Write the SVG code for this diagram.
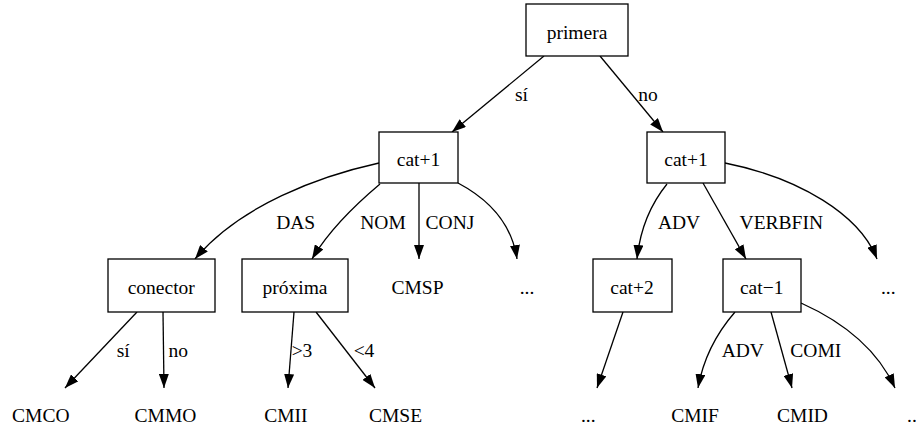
<svg xmlns="http://www.w3.org/2000/svg" width="916" height="427" viewBox="0 0 916 427">
<style>
  rect.n { fill: #fff; stroke: #000; stroke-width: 1.3; }
  text { font-size: 19.5px; fill: #000; text-anchor: middle; }
  .e path { fill: none; stroke: #000; stroke-width: 1.3; marker-end: url(#arr); }
</style>
<defs>
  <marker id="arr" viewBox="0 0 14 10" refX="14" refY="5" markerWidth="14" markerHeight="10" markerUnits="userSpaceOnUse" orient="auto">
    <path d="M0,0 L14,5 L0,10 z" fill="#000"/>
  </marker>
</defs>
<rect width="916" height="427" fill="#fff"/>
<g font-family="'Liberation Serif', 'Times New Roman', 'DejaVu Serif', serif">
<g id="connectors" class="e">
  <path d="M544,56 L452,132"/>
  <path d="M600,56 L663,132"/>
  <path d="M379,163 C320,176 240,205 195,259"/>
  <path d="M380,184 C355,205 328,232 312,259"/>
  <path d="M419,183 L419,259"/>
  <path d="M458,183 C490,200 512,225 517,259"/>
  <path d="M667,184 C650,205 640,230 637,259"/>
  <path d="M703,183 L746,259"/>
  <path d="M725,163 C800,178 860,215 877,259"/>
  <path d="M137,312 L65,388"/>
  <path d="M163,312 L164,388"/>
  <path d="M294,312 L288,388"/>
  <path d="M316,312 L375,388"/>
  <path d="M623,312 L597,388"/>
  <path d="M735,312 C715,335 703,360 698,388"/>
  <path d="M771,312 L792,388"/>
  <path d="M801,303 C850,325 880,355 895,388"/>
</g>
<g id="edge-labels">
  <text x="521.5" y="101">sí</text>
  <text x="648" y="101">no</text>
  <text x="295.7" y="229">DAS</text>
  <text x="383" y="229">NOM</text>
  <text x="450" y="229">CONJ</text>
  <text x="679" y="229">ADV</text>
  <text x="781.3" y="229">VERBFIN</text>
  <text x="123.3" y="357">sí</text>
  <text x="178.3" y="357">no</text>
  <text x="302" y="357">&gt;3</text>
  <text x="364" y="357">&lt;4</text>
  <text x="742.8" y="357">ADV</text>
  <text x="815.8" y="357">COMI</text>
</g>
<g id="n-primera"><rect class="n" x="526" y="4" width="102" height="52"/><text x="577" y="38.5">primera</text></g>
<g id="n-cat1-left"><rect class="n" x="379" y="132" width="79" height="51"/><text x="418.5" y="166">cat+1</text></g>
<g id="n-cat1-right"><rect class="n" x="647" y="132" width="78" height="51"/><text x="686" y="166">cat+1</text></g>
<g id="n-conector"><rect class="n" x="108" y="259" width="107" height="53"/><text x="161.3" y="293.5">conector</text></g>
<g id="n-proxima"><rect class="n" x="242" y="259" width="106" height="53"/><text x="295" y="293.5">próxima</text></g>
<g id="n-cmsp"><text x="417.5" y="293.5">CMSP</text></g>
<g id="n-dots1"><text x="527" y="293.5">...</text></g>
<g id="n-cat2"><rect class="n" x="593" y="259" width="79" height="53"/><text x="632" y="293.5">cat+2</text></g>
<g id="n-catm1"><rect class="n" x="723" y="259" width="78" height="53"/><text x="761.7" y="293.5">cat−1</text></g>
<g id="n-dots2"><text x="888.3" y="293.5">...</text></g>
<g id="n-cmco"><text x="40.8" y="421.5">CMCO</text></g>
<g id="n-cmmo"><text x="165.5" y="421.5">CMMO</text></g>
<g id="n-cmii"><text x="285.8" y="421.5">CMII</text></g>
<g id="n-cmse"><text x="395.5" y="421.5">CMSE</text></g>
<g id="n-dots3"><text x="588.3" y="421.5">...</text></g>
<g id="n-cmif"><text x="695" y="421.5">CMIF</text></g>
<g id="n-cmid"><text x="802.5" y="421.5">CMID</text></g>
<g id="n-dots4"><text x="907" y="421.5" style="text-anchor:start">..</text></g>
</g>
</svg>
